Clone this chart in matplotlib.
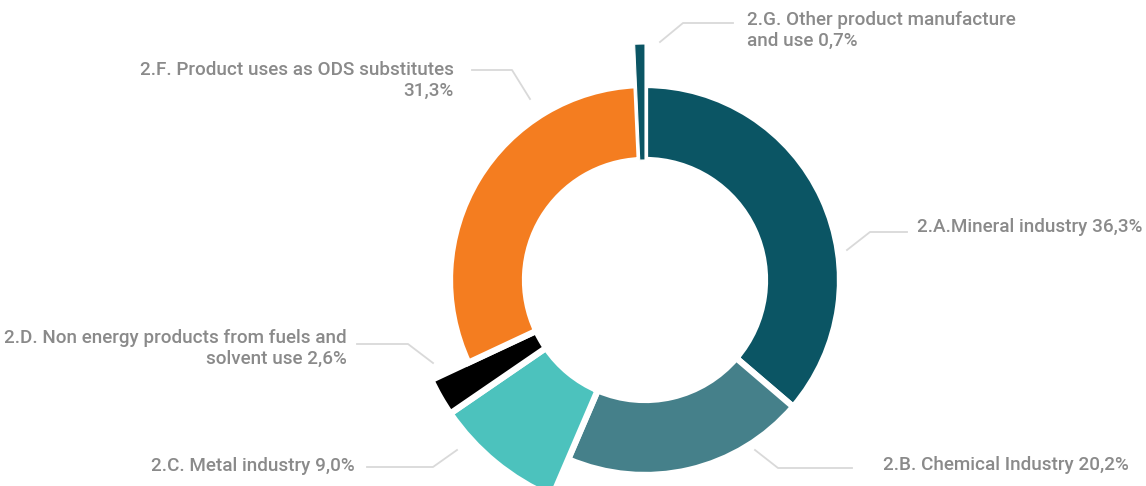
import matplotlib.pyplot as plt

# data
labels = ['2.A.Mineral industry 36,3%',
          '2.B. Chemical Industry 20,2%',
          '2.C. Metal industry 9,0%',
          '2.D. Non energy products from fuels and\nsolvent use 2,6%',
          '2.F. Product uses as ODS substitutes\n31,3%',
          '2.G. Other product manufacture\nand use 0,7%']
shares = [36.3, 20.2, 9.0, 2.6, 31.3, 0.7]
colors = ['#0b5564', '#45808a', '#4cc2bd', '#000000', '#f47d20', '#0b5564']

# slices drawn with a bigger outer radius
big = [2, 3, 5]

W, H = 1146, 486
fig = plt.figure(figsize=(W / 100, H / 100), dpi=100)
ax = fig.add_axes([0, 0, 1, 1])

cx, cy = 645, H - 280
r_out, r_in, r_big = 195, 120, 236

wedges, _ = ax.pie(shares, colors=colors, startangle=90, counterclock=False,
                   center=(cx, cy), radius=r_out,
                   wedgeprops=dict(width=r_out - r_in, edgecolor='white', linewidth=4.5))
for i in big:
    wedges[i].set_radius(r_big)
    wedges[i].set_width(r_big - r_in)
# the thin top slice keeps only a hairline edge
wedges[5].set_linewidth(0.8)

ax.set_xlim(0, W)
ax.set_ylim(0, H)
ax.set_aspect('equal')
ax.axis('off')

txt = dict(color='#8a8a8a', fontsize=13.6, family='Roboto', fontweight='medium',
           linespacing=1.2)
line = dict(color='#d9d9d9', linewidth=1.3)

# label text: (x, y, ha) in pixels, leader polyline in pixels
layout = [
    (917, 227, 'left', [(907, 232), (870, 232), (847, 250)]),
    (883, 465, 'left', [(755, 450), (778, 468), (852, 468)]),
    (355, 466, 'right', [(367, 467), (433, 467), (457, 450)]),
    (347, 348, 'right', [(357, 344), (408, 344), (433, 363)]),
    (454, 80, 'right', [(472, 70), (512, 70), (530, 99)]),
    (747, 30, 'left', [(660, 42), (683, 23), (733, 23)]),
]
for lab, (x, y, ha, pts) in zip(labels, layout):
    ax.text(x, H - y, lab, ha=ha, va='center', multialignment=ha, **txt)
    ax.plot([p[0] for p in pts], [H - p[1] for p in pts], **line)

plt.savefig('out.png', dpi=100)
plt.close()
